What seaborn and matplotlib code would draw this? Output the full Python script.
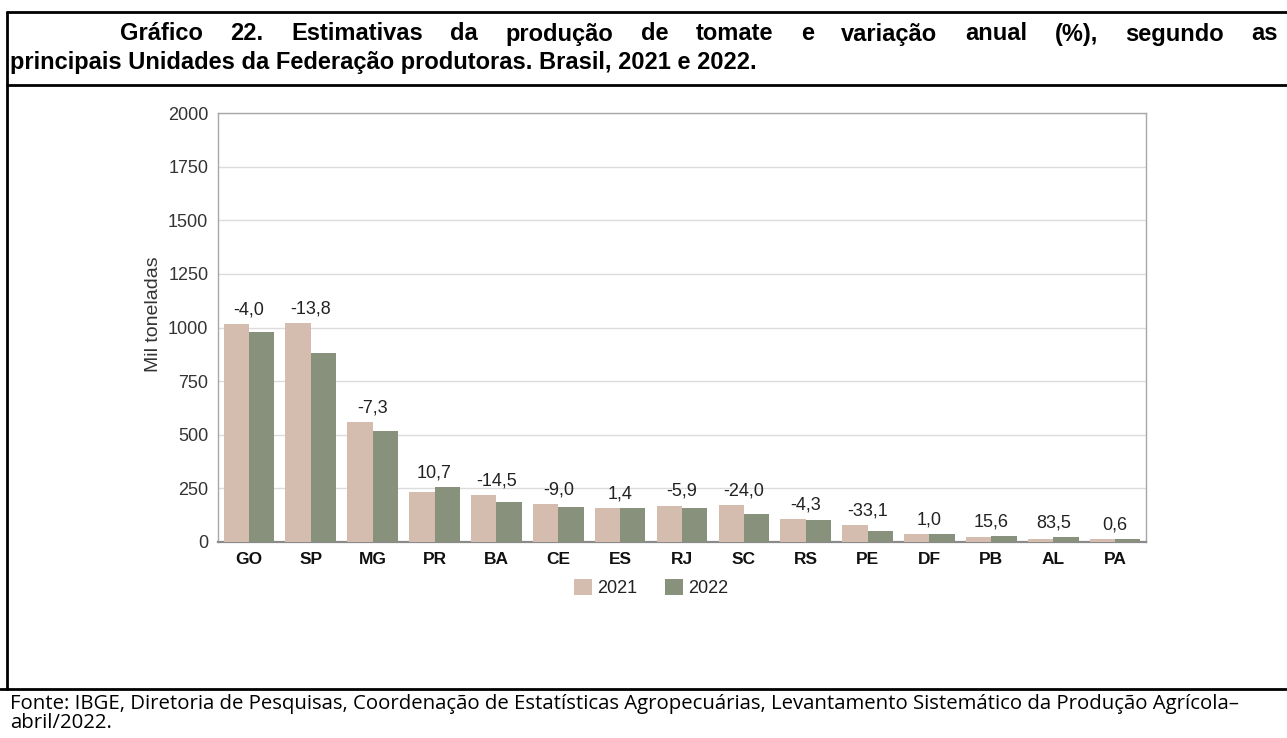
import matplotlib
matplotlib.use("Agg")
import matplotlib.pyplot as plt
from matplotlib.lines import Line2D
import seaborn as sns
import pandas as pd

# ---- data ----
ufs = ["GO", "SP", "MG", "PR", "BA", "CE", "ES", "RJ", "SC", "RS", "PE", "DF", "PB", "AL", "PA"]
prod_2021 = [1018, 1022, 559, 231, 220, 178, 157, 170, 172, 107, 80, 38.5, 23, 12.5, 12.4]
prod_2022 = [977, 881, 518, 255, 188, 162, 159, 160, 131, 102, 53.5, 38.9, 26.6, 23, 12.5]
variacao = ["-4,0", "-13,8", "-7,3", "10,7", "-14,5", "-9,0", "1,4", "-5,9", "-24,0",
            "-4,3", "-33,1", "1,0", "15,6", "83,5", "0,6"]
anos = ["2021", "2022"]
yticks = [0, 250, 500, 750, 1000, 1250, 1500, 1750, 2000]

title_l1 = "Gráfico 22. Estimativas da produção de tomate e variação anual (%), segundo as"
title_l2 = "principais Unidades da Federação produtoras. Brasil, 2021 e 2022."
footer_l1 = ("Fonte: IBGE, Diretoria de Pesquisas, Coordenação de Estatísticas Agropecuárias, "
             "Levantamento Sistemático da Produção Agrícola–")
footer_l2 = "abril/2022."

df = pd.DataFrame({
    "uf": ufs * 2,
    "valor": prod_2021 + prod_2022,
    "ano": [anos[0]] * len(ufs) + [anos[1]] * len(ufs),
})

sns.set_theme(style="white")
plt.rcParams["font.family"] = ["Liberation Sans", "DejaVu Sans"]

W, H = 1287, 738
fig = plt.figure(figsize=(W / 100, H / 100), dpi=100)
ax = fig.add_axes([218 / W, 1 - 542 / H, (1146 - 218) / W, (542 - 113) / H])

colors = ["#d4bdae", "#88917b"]
sns.barplot(data=df, x="uf", y="valor", hue="ano", palette=colors, width=0.82,
            saturation=1, gap=0, linewidth=0, ax=ax, zorder=3)

ax.set_ylim(0, 2000)
ax.set_xlim(-0.5, len(ufs) - 0.5)
ax.set_yticks(yticks)
ax.set_yticklabels([str(v) for v in yticks])
ax.yaxis.grid(True, color="#dcdcdc", linewidth=1.0, zorder=0)
ax.set_axisbelow(True)
ax.tick_params(axis="both", length=0)
ax.tick_params(axis="y", labelsize=13, labelcolor="#333333", pad=7)
ax.tick_params(axis="x", labelsize=12.5, pad=7)
for lab in ax.get_xticklabels():
    lab.set_fontweight("bold")
    lab.set_color("#111111")
ax.set_xlabel("")
ax.set_ylabel("Mil toneladas", fontsize=14, color="#333333")
ax.yaxis.set_label_coords(-0.060, 0.531)
for s in ["top", "right", "left"]:
    ax.spines[s].set_color("#a8a8a8")
    ax.spines[s].set_linewidth(1.0)
ax.spines["bottom"].set_color("#8a8a8a")
ax.spines["bottom"].set_linewidth(1.6)

for i, lab in enumerate(variacao):
    top = max(prod_2021[i], prod_2022[i])
    ax.annotate(lab, xy=(i, top), xytext=(0, 4), textcoords="offset points",
                ha="center", va="bottom", fontsize=13, color="#222222")

leg = ax.legend(loc="center", bbox_to_anchor=(651 / W, 1 - 588 / H),
                bbox_transform=fig.transFigure, ncol=2, frameon=False,
                fontsize=13, handlelength=1.0, handleheight=1.0,
                columnspacing=1.5, handletextpad=0.3)
for t in leg.get_texts():
    t.set_color("#222222")

# ---- frame lines ----
lw = 2.0
fig.add_artist(Line2D([7 / W, 1], [1 - 12 / H, 1 - 12 / H], transform=fig.transFigure, color="black", lw=lw))
fig.add_artist(Line2D([7 / W, 1], [1 - 85 / H, 1 - 85 / H], transform=fig.transFigure, color="black", lw=lw))
fig.add_artist(Line2D([0, 1], [1 - 689 / H, 1 - 689 / H], transform=fig.transFigure, color="black", lw=lw))
fig.add_artist(Line2D([7 / W, 7 / W], [1 - 12 / H, 1 - 689 / H], transform=fig.transFigure, color="black", lw=lw))

# ---- title (first line justified) ----
tkw = dict(fontsize=17, fontweight="bold", color="black", va="center", ha="left")
fig.canvas.draw()
renderer = fig.canvas.get_renderer()
words = title_l1.split(" ")
texts = [fig.text(0, 1 - 34 / H, w, **tkw) for w in words]
widths = [t.get_window_extent(renderer).width for t in texts]
x0, x1 = 120, 1278
gap = (x1 - x0 - sum(widths)) / (len(words) - 1)
x = x0
for t, w in zip(texts, widths):
    t.set_x(x / W)
    x += w + gap
fig.text(10 / W, 1 - 62 / H, title_l2, **tkw)

# ---- footer (fit to the reference width) ----
fkw = dict(color="black", va="center", ha="left", family=["Open Sans", "DejaVu Sans"])
f1 = fig.text(10 / W, 1 - 704 / H, footer_l1, fontsize=14, **fkw)
w1 = f1.get_window_extent(renderer).width
fs = 14 * (1245 - 10) / w1
f1.set_fontsize(fs)
fig.text(10 / W, 1 - 723 / H, footer_l2, fontsize=fs, **fkw)

fig.savefig("out.png", dpi=100)
